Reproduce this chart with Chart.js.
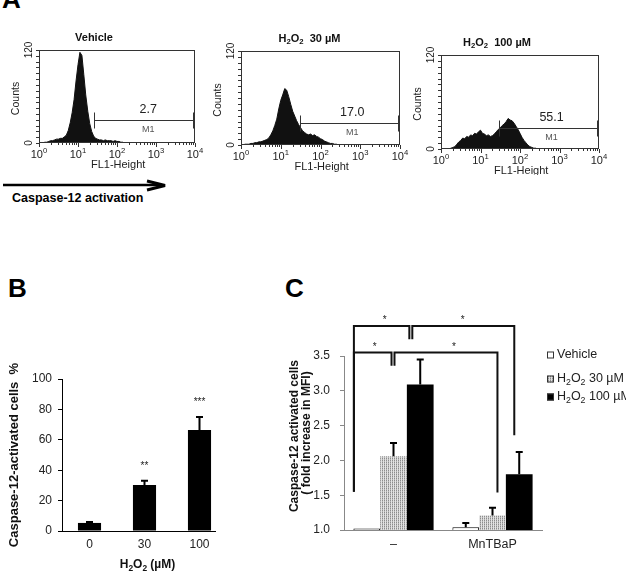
<!DOCTYPE html>
<html>
<head>
<meta charset="utf-8">
<script src="https://cdn.jsdelivr.net/npm/chart.js@4.4.1/dist/chart.umd.min.js"></script>
<style>
  html, body { margin: 0; padding: 0; background: #fff; }
  body { width: 626px; height: 573px; position: relative; overflow: hidden; }
  canvas { position: absolute; }
  svg { position: absolute; left: 0; top: 0; font-family: "Liberation Sans", Arial, sans-serif; }
</style>
</head>
<body>
<svg width="626" height="573">
  <text x="2" y="8" font-size="26" font-weight="bold">A</text>
  <text x="8" y="297" font-size="26" font-weight="bold">B</text>
  <text x="285" y="297" font-size="26" font-weight="bold">C</text>
  <line x1="3" y1="185" x2="162" y2="185" stroke="#000" stroke-width="2.5"/>
  <polyline points="147,181 165,185.5 147,190" fill="none" stroke="#000" stroke-width="3"/>
  <text x="12" y="202" font-size="12.5" font-weight="bold">Caspase-12 activation</text>
</svg>
<canvas id="hist1" width="215" height="150" style="left:0px;top:25px"></canvas>
<canvas id="hist2" width="212" height="150" style="left:205px;top:25px"></canvas>
<canvas id="hist3" width="221" height="150" style="left:405px;top:25px"></canvas>
<canvas id="chartB" width="250" height="213" style="left:0px;top:360px"></canvas>
<canvas id="chartC" width="346" height="273" style="left:280px;top:300px"></canvas>
<script>
// ---- panel A: flow cytometry histograms (FL1 channel vs counts) ----
const fl1Channels = [1.00, 1.12, 1.26, 1.41, 1.58, 1.78, 2.00, 2.24, 2.51, 2.82,
  3.16, 3.55, 3.98, 4.47, 5.01, 5.62, 6.31, 7.08, 7.94, 8.91,
  10.0, 11.2, 12.6, 14.1, 15.8, 17.8, 20.0, 22.4, 25.1, 28.2,
  31.6, 35.5, 39.8, 44.7, 50.1, 56.2, 63.1, 70.8, 79.4, 89.1,
  100, 112, 126, 141, 158, 178, 200, 224, 251, 282,
  316, 355, 398, 1000, 10000];
const vehicleCounts = [0, 0, 0, 1, 1, 2, 3, 3, 4, 5,
  5, 6, 6, 8, 10, 16, 26, 39, 56, 80,
  101, 117, 113, 88, 62, 41, 25, 15, 9, 6,
  5, 4, 4, 3, 4, 3, 3, 3, 2, 3,
  2, 2, 1, 1, 0, 0, 0, 0, 0, 0,
  0, 0, 0, 0, 0];
const h2o2_30Counts = [0, 0, 1, 1, 1, 2, 2, 3, 3, 4,
  4, 5, 6, 7, 9, 13, 18, 25, 33, 46,
  57, 64, 72, 70, 62, 52, 43, 37, 31, 26,
  22, 18, 16, 14, 13, 14, 12, 13, 11, 10,
  8, 7, 5, 4, 3, 2, 2, 1, 1, 0,
  0, 0, 0, 0, 0];
const h2o2_100Counts = [0, 0, 0, 0, 0, 1, 2, 3, 6, 9,
  11, 14, 13, 16, 15, 18, 17, 20, 19, 22,
  24, 20, 19, 17, 18, 16, 17, 19, 22, 25,
  27, 30, 32, 35, 39, 37, 36, 33, 29, 25,
  20, 15, 11, 8, 5, 3, 2, 1, 1, 0,
  0, 0, 0, 0, 0];
const histTitles = ['Vehicle', 'H_2O_2  30 µM', 'H_2O_2  100 µM'];
const gateStart = [25.7, 30.2, 28.8];
const gateLevel = [29.7, 27.7, 27.0];
const gatePercent = ['2.7', '17.0', '55.1'];
const decadeTicks = [1, 10, 100, 1000, 10000];

// ---- panel B ----
const doseLabels = ['0', '30', '100'];
const doseMeans = [5.3, 30.3, 66.4];
const doseErrors = [0.6, 2.7, 8.6];
const doseStars = ['', '**', '***'];

// ---- panel C ----
const groupLabels = ['–', 'MnTBaP'];
const seriesNames = ['Vehicle', 'H_2O_2 30 µM', 'H_2O_2 100 µM'];
const vehicleMFI = [1.02, 1.04];
const h2o2_30MFI = [2.06, 1.21];
const h2o2_100MFI = [3.09, 1.80];
const vehicleErr = [0, 0.06];
const h2o2_30Err = [0.19, 0.11];
const h2o2_100Err = [0.36, 0.32];
// significance brackets: x in category units, y in MFI units
const sigBrackets = [
  { from: -0.40, to: 0.16, level: 3.93, leftEnd: 1.55, rightEnd: 3.74, star: -0.09 },
  { from: 0.19, to: 1.22, level: 3.93, leftEnd: 3.74, rightEnd: 2.36, star: 0.70 },
  { from: -0.40, to: -0.02, level: 3.55, leftEnd: 1.55, rightEnd: 3.36, star: -0.19 },
  { from: 0.01, to: 1.05, level: 3.55, leftEnd: 3.36, rightEnd: 1.54, star: 0.61 }
];

const FONT = '"Liberation Sans", Arial, sans-serif';
Chart.defaults.font.family = FONT;

// text with _2 subscripts and ^2 superscripts
function richText(ctx, text, x, y, size, weight, align) {
  const parts = text.split(/([_^]\d)/).filter(Boolean);
  const items = parts.map(function (p) {
    const sub = p.length === 2 && p[0] === '_';
    const sup = p.length === 2 && p[0] === '^';
    const s = (sub || sup) ? size * 0.7 : size;
    const t = (sub || sup) ? p[1] : p;
    ctx.font = weight + ' ' + s + 'px ' + FONT;
    return { t: t, s: s, dy: sub ? size * 0.28 : (sup ? -size * 0.42 : 0), w: ctx.measureText(t).width };
  });
  const total = items.reduce(function (a, b) { return a + b.w; }, 0);
  let cx = align === 'center' ? x - total / 2 : (align === 'right' ? x - total : x);
  ctx.textAlign = 'left';
  items.forEach(function (it) {
    ctx.font = weight + ' ' + it.s + 'px ' + FONT;
    ctx.fillText(it.t, cx, y + it.dy);
    cx += it.w;
  });
}

function rotatedText(ctx, text, x, y, font) {
  ctx.save();
  ctx.translate(x, y);
  ctx.rotate(-Math.PI / 2);
  ctx.font = font;
  ctx.textAlign = 'center';
  ctx.textBaseline = 'middle';
  ctx.fillText(text, 0, 0);
  ctx.restore();
}

const histDeco = {
  id: 'histDeco',
  afterDraw: function (chart, args, o) {
    const ctx = chart.ctx, a = chart.chartArea, xs = chart.scales.x, ys = chart.scales.y;
    const i = o.index;
    ctx.save();
    ctx.strokeStyle = '#333';
    ctx.lineWidth = 1;
    ctx.strokeRect(a.left + 0.5, a.top + 0.5, a.right - a.left - 1, a.bottom - a.top - 1);
    // log ticks along the bottom
    ctx.beginPath();
    decadeTicks.forEach(function (v, k) {
      const px = Math.round(xs.getPixelForValue(v)) + 0.5;
      ctx.moveTo(px, a.bottom); ctx.lineTo(px, a.bottom + 4);
      if (k < 4) {
        for (let m = 2; m <= 9; m++) {
          const mx = Math.round(xs.getPixelForValue(v * m)) + 0.5;
          ctx.moveTo(mx, a.bottom); ctx.lineTo(mx, a.bottom + 2);
        }
      }
    });
    for (let c = 0; c <= 120; c += 7.5) {
      const py = Math.round(ys.getPixelForValue(c)) + 0.5;
      ctx.moveTo(a.left - 3, py); ctx.lineTo(a.left, py);
    }
    ctx.stroke();
    // labels
    ctx.fillStyle = '#222';
    ctx.textBaseline = 'alphabetic';
    decadeTicks.forEach(function (v, k) {
      richText(ctx, '10^' + k, xs.getPixelForValue(v), a.bottom + 15, 11, 'normal', 'center');
    });
    ctx.font = '11px ' + FONT;
    ctx.textAlign = 'center';
    ctx.fillText('FL1-Height', xs.getPixelForValue(107), a.bottom + 25);
    rotatedText(ctx, 'Counts', a.left - 23, (a.top + a.bottom) / 2 + 2, '10.5px ' + FONT);
    rotatedText(ctx, '120', a.left - 10, a.top, '10px ' + FONT);
    rotatedText(ctx, '0', a.left - 10, a.bottom, '10px ' + FONT);
    ctx.textBaseline = 'middle';
    ctx.fillStyle = '#111';
    richText(ctx, histTitles[i], a.left + o.titleX, a.top - 12, 11, 'bold', 'center');
    // M1 gate
    const gx0 = Math.round(xs.getPixelForValue(gateStart[i])) + 0.5;
    const gx1 = a.right - 1;
    const gy = Math.round(ys.getPixelForValue(gateLevel[i])) + 0.5;
    ctx.strokeStyle = '#333';
    ctx.beginPath();
    ctx.moveTo(gx0, gy); ctx.lineTo(gx1, gy);
    ctx.moveTo(gx0, gy - 8); ctx.lineTo(gx0, gy + 8);
    ctx.stroke();
    ctx.lineWidth = 2;
    ctx.beginPath();
    ctx.moveTo(gx1, gy - 8); ctx.lineTo(gx1, gy + 8);
    ctx.stroke();
    const lx = xs.getPixelForValue(630);
    ctx.fillStyle = '#222';
    ctx.textAlign = 'center';
    ctx.font = '12.5px ' + FONT;
    ctx.fillText(gatePercent[i], lx, gy - 11);
    ctx.fillStyle = '#555';
    ctx.font = '9px ' + FONT;
    ctx.fillText('M1', lx, gy + 9);
    ctx.restore();
  }
};

function histChart(id, counts, index, padding, titleX) {
  return new Chart(document.getElementById(id), {
    type: 'line',
    data: {
      datasets: [{
        data: fl1Channels.map(function (x, k) { return { x: x, y: counts[k] }; }),
        fill: 'origin',
        backgroundColor: '#111',
        borderColor: '#111',
        borderWidth: 1,
        pointRadius: 0,
        tension: 0
      }]
    },
    options: {
      responsive: false,
      animation: false,
      devicePixelRatio: 1,
      layout: { padding: padding },
      plugins: {
        legend: { display: false },
        tooltip: { enabled: false },
        histDeco: { index: index, titleX: titleX }
      },
      scales: {
        x: { type: 'logarithmic', min: 1, max: 10000, display: false },
        y: { min: 0, max: 120, display: false }
      }
    },
    plugins: [histDeco]
  });
}

histChart('hist1', vehicleCounts, 0, { left: 39, top: 25, right: 20, bottom: 32 }, 55);
histChart('hist2', h2o2_30Counts, 1, { left: 36, top: 26, right: 17, bottom: 30 }, 68.5);
histChart('hist3', h2o2_100Counts, 2, { left: 36, top: 30, right: 27, bottom: 26 }, 56);

// ---- panel B ----
const decoB = {
  id: 'decoB',
  afterDatasetsDraw: function (chart) {
    const ctx = chart.ctx, a = chart.chartArea, xs = chart.scales.x, ys = chart.scales.y;
    const meta = chart.getDatasetMeta(0);
    ctx.save();
    ctx.strokeStyle = '#000';
    ctx.lineWidth = 2;
    meta.data.forEach(function (bar, k) {
      const top = ys.getPixelForValue(doseMeans[k] + doseErrors[k]);
      ctx.beginPath();
      ctx.moveTo(bar.x, bar.y); ctx.lineTo(bar.x, top);
      ctx.moveTo(bar.x - 3.5, top); ctx.lineTo(bar.x + 3.5, top);
      ctx.stroke();
      ctx.fillStyle = '#222';
      ctx.font = '10px ' + FONT;
      ctx.textAlign = 'center';
      ctx.textBaseline = 'alphabetic';
      ctx.fillText(doseStars[k], bar.x, top - 12);
    });
    // x axis line
    ctx.lineWidth = 1;
    ctx.beginPath();
    ctx.moveTo(a.left, a.bottom + 0.5);
    ctx.lineTo(xs.getPixelForValue(2.3), a.bottom + 0.5);
    ctx.stroke();
    ctx.fillStyle = '#111';
    rotatedText(ctx, 'Caspase-12-activated cells  %', a.left - 48, (a.top + a.bottom) / 2, 'bold 13px ' + FONT);
    ctx.textBaseline = 'middle';
    richText(ctx, 'H_2O_2 (µM)', xs.getPixelForValue(1) + 3, a.bottom + 34, 12, 'bold', 'center');
    ctx.restore();
  }
};

new Chart(document.getElementById('chartB'), {
  type: 'bar',
  data: {
    labels: doseLabels,
    datasets: [{ data: doseMeans, backgroundColor: '#000', borderWidth: 0 }]
  },
  options: {
    responsive: false,
    animation: false,
    devicePixelRatio: 1,
    layout: { padding: { left: 0, top: 19, right: 23, bottom: 0 } },
    categoryPercentage: 0.42,
    barPercentage: 1,
    plugins: { legend: { display: false }, tooltip: { enabled: false } },
    scales: {
      x: {
        grid: { display: false, drawTicks: false },
        border: { display: false },
        ticks: { color: '#222', font: { size: 12 }, padding: 6 },
        afterFit: function (s) { s.height = 42; }
      },
      y: {
        min: 0, max: 100,
        ticks: { stepSize: 20, color: '#222', font: { size: 12 }, padding: 6 },
        grid: { drawOnChartArea: false, tickLength: 4, color: '#000' },
        border: { color: '#000', width: 1 },
        afterFit: function (s) { s.width = 62; }
      }
    }
  },
  plugins: [decoB]
});

// ---- panel C ----
function makeStipple() {
  const c = document.createElement('canvas');
  c.width = 2; c.height = 2;
  const g = c.getContext('2d');
  g.fillStyle = '#e2e2e2'; g.fillRect(0, 0, 2, 2);
  g.fillStyle = '#8c8c8c'; g.fillRect(0, 0, 1, 1);
  g.fillStyle = '#b8b8b8'; g.fillRect(0, 1, 1, 1);
  return g.createPattern(c, 'repeat');
}
const stipple = makeStipple();
const errorsC = [vehicleErr, h2o2_30Err, h2o2_100Err];

const decoC = {
  id: 'decoC',
  afterDatasetsDraw: function (chart) {
    const ctx = chart.ctx, a = chart.chartArea, xs = chart.scales.x, ys = chart.scales.y;
    ctx.save();
    ctx.strokeStyle = '#000';
    ctx.lineWidth = 2;
    chart.data.datasets.forEach(function (ds, di) {
      chart.getDatasetMeta(di).data.forEach(function (bar, k) {
        const err = errorsC[di][k];
        if (!err) return;
        const top = ys.getPixelForValue(ds.data[k] + err);
        ctx.beginPath();
        ctx.moveTo(bar.x, bar.y); ctx.lineTo(bar.x, top);
        ctx.moveTo(bar.x - 3.5, top); ctx.lineTo(bar.x + 3.5, top);
        ctx.stroke();
      });
    });
    // significance brackets
    ctx.strokeStyle = '#111';
    ctx.fillStyle = '#222';
    ctx.font = '10px ' + FONT;
    ctx.textAlign = 'center';
    ctx.textBaseline = 'alphabetic';
    sigBrackets.forEach(function (b) {
      const x0 = xs.getPixelForValue(b.from), x1 = xs.getPixelForValue(b.to);
      const yl = ys.getPixelForValue(b.level);
      ctx.beginPath();
      ctx.moveTo(x0, ys.getPixelForValue(b.leftEnd));
      ctx.lineTo(x0, yl);
      ctx.lineTo(x1, yl);
      ctx.lineTo(x1, ys.getPixelForValue(b.rightEnd));
      ctx.stroke();
      ctx.fillText('*', xs.getPixelForValue(b.star), yl - 3);
    });
    // legend
    const fills = ['#fff', stipple, '#000'];
    const rowsY = [a.top - 1, a.top + 23, a.top + 41];
    ctx.lineWidth = 1;
    seriesNames.forEach(function (name, k) {
      const sx = a.right + 5, sy = rowsY[k];
      ctx.fillStyle = fills[k];
      ctx.fillRect(sx, sy - 3.5, 7, 7);
      ctx.strokeStyle = '#333';
      ctx.strokeRect(sx + 0.5, sy - 3, 6, 6);
      ctx.fillStyle = '#222';
      ctx.textBaseline = 'middle';
      richText(ctx, name, a.right + 15, sy, 12.5, 'normal', 'left');
    });
    ctx.fillStyle = '#111';
    rotatedText(ctx, 'Caspase-12 activated cells', a.left - 49, (a.top + a.bottom) / 2 - 7, 'bold 12px ' + FONT);
    rotatedText(ctx, '( fold increase in MFI)', a.left - 37, (a.top + a.bottom) / 2 - 10, 'bold 12px ' + FONT);
    ctx.restore();
  }
};

new Chart(document.getElementById('chartC'), {
  type: 'bar',
  data: {
    labels: groupLabels,
    datasets: [
      { data: vehicleMFI, backgroundColor: '#fff', borderColor: '#000', borderWidth: 1 },
      { data: h2o2_30MFI, backgroundColor: stipple, borderWidth: 0 },
      { data: h2o2_100MFI, backgroundColor: '#000', borderWidth: 0 }
    ]
  },
  options: {
    responsive: false,
    animation: false,
    devicePixelRatio: 1,
    layout: { padding: { left: 0, top: 56, right: 84, bottom: 0 } },
    categoryPercentage: 0.81,
    barPercentage: 1,
    plugins: { legend: { display: false }, tooltip: { enabled: false } },
    scales: {
      x: {
        grid: { display: false, drawTicks: false },
        border: { color: '#888', width: 1 },
        ticks: { color: '#222', font: { size: 12.5 }, padding: 7 },
        afterFit: function (s) { s.height = 43; }
      },
      y: {
        min: 1, max: 3.5,
        ticks: { stepSize: 0.5, color: '#222', font: { size: 12 }, padding: 10,
          callback: function (v) { return v.toFixed(1); } },
        grid: { drawOnChartArea: false, tickLength: 4, color: '#888' },
        border: { color: '#888', width: 1 },
        afterFit: function (s) { s.width = 64; }
      }
    }
  },
  plugins: [decoC]
});
</script>
</body>
</html>
